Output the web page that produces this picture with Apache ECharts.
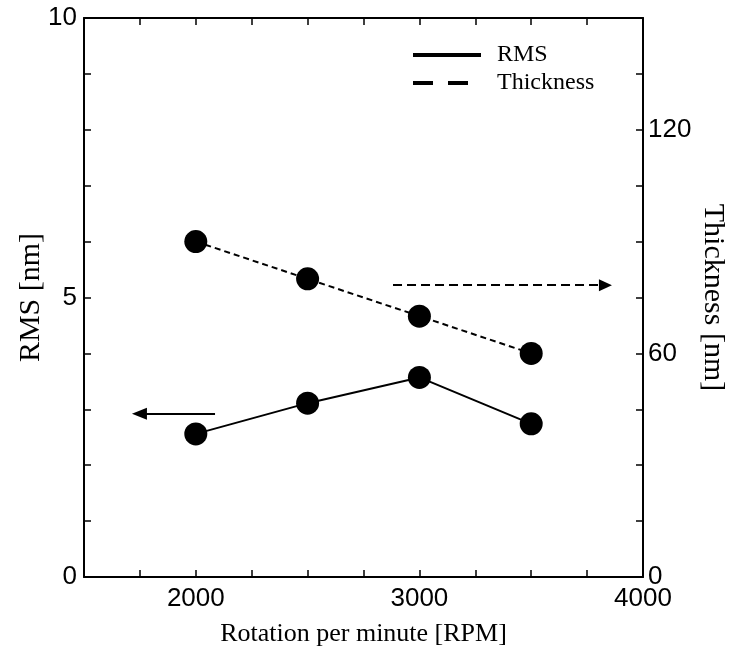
<!DOCTYPE html>
<html>
<head>
<meta charset="utf-8">
<script src="https://cdn.jsdelivr.net/npm/echarts@6/dist/echarts.min.js"></script>
<style>html,body{margin:0;padding:0;background:#fff;}#c{width:732px;height:652px;}</style>
</head>
<body>
<div id="c"></div>
<script>
// Data
const rpm = [2000, 2500, 3000, 3500];
const rmsValues = [2.56, 3.11, 3.57, 2.74];
const thicknessValues = [90, 80, 70, 60];
const seriesNames = ['RMS', 'Thickness'];
const xLabelValues = [2000, 3000, 4000];
const leftLabelValues = [0, 5, 10];
const rightLabelValues = [0, 60, 120];
// Annotation arrows (data space): [startX, endX, y]
const rmsArrow = [2086, 1748, 2.92];
const thicknessArrow = [2882, 3832, 78.3];

const serif = 'Liberation Serif, Times New Roman, serif';
const sans = 'Liberation Sans, Arial, sans-serif';

const chart = echarts.init(document.getElementById('c'), null, {renderer: 'canvas'});
const axisLine = {show: true, onZero: false, lineStyle: {color: '#000', width: 2}};
const axisTick = {show: true, inside: true, length: 7, lineStyle: {color: '#000', width: 1.5}};

chart.setOption({
  animation: false,
  backgroundColor: '#fff',
  grid: {left: 84, right: 89, top: 18, bottom: 75, containLabel: false, outerBoundsMode: 'none'},
  legend: {
    orient: 'vertical', left: 406, top: 38,
    itemWidth: 68, itemHeight: 24, itemGap: 4,
    lineStyle: {width: 4, color: '#000'},
    itemStyle: {opacity: 0},
    textStyle: {fontFamily: serif, fontSize: 24, color: '#000', padding: [0, 0, 0, 11]},
    data: [
      {name: seriesNames[0], lineStyle: {type: 'solid', width: 4, color: '#000'}, itemStyle: {opacity: 0}},
      {name: seriesNames[1], lineStyle: {type: [20, 15], width: 4, color: '#000'}, itemStyle: {opacity: 0}}
    ]
  },
  xAxis: [
    {
      type: 'value', min: 1500, max: 4000, interval: 250, position: 'bottom',
      name: 'Rotation per minute [RPM]', nameLocation: 'middle', nameGap: 44, nameMoveOverlap: false,
      nameTextStyle: {fontFamily: serif, fontSize: 26, color: '#000'},
      axisLine: axisLine, axisTick: axisTick, splitLine: {show: false},
      axisLabel: {margin: 9, fontFamily: sans, fontSize: 26, color: '#000',
        formatter: v => xLabelValues.includes(v) ? String(v) : ''}
    },
    {
      type: 'value', min: 1500, max: 4000, interval: 250, position: 'top',
      axisLine: axisLine, axisTick: axisTick, splitLine: {show: false},
      axisLabel: {show: false}
    }
  ],
  yAxis: [
    {
      type: 'value', min: 0, max: 10, interval: 1, position: 'left',
      name: 'RMS [nm]', nameLocation: 'middle', nameGap: 38, nameRotate: 90, nameMoveOverlap: false,
      nameTextStyle: {fontFamily: serif, fontSize: 30, color: '#000'},
      axisLine: axisLine, axisTick: axisTick, splitLine: {show: false},
      axisLabel: {margin: 7, fontFamily: sans, fontSize: 26, color: '#000',
        formatter: v => leftLabelValues.includes(v) ? String(v) : ''}
    },
    {
      type: 'value', min: 0, max: 150, interval: 15, position: 'right',
      name: 'Thickness [nm]', nameLocation: 'middle', nameGap: 55, nameRotate: -90, nameMoveOverlap: false,
      nameTextStyle: {fontFamily: serif, fontSize: 30, color: '#000'},
      axisLine: axisLine, axisTick: axisTick, splitLine: {show: false},
      axisLabel: {margin: 5, fontFamily: sans, fontSize: 26, color: '#000',
        formatter: v => rightLabelValues.includes(v) ? String(v) : ''}
    }
  ],
  series: [
    {
      name: seriesNames[0], type: 'line', xAxisIndex: 0, yAxisIndex: 0,
      data: rpm.map((x, i) => [x, rmsValues[i]]),
      symbol: 'circle', symbolSize: 23,
      itemStyle: {color: '#000'},
      lineStyle: {color: '#000', width: 2, type: 'solid'},
      markLine: {
        silent: true, symbol: ['none', 'triangle'], symbolSize: [12, 15],
        label: {show: false},
        lineStyle: {color: '#000', width: 2, type: 'solid'},
        data: [[{coord: [rmsArrow[0], rmsArrow[2]]}, {coord: [rmsArrow[1], rmsArrow[2]]}]]
      }
    },
    {
      name: seriesNames[1], type: 'line', xAxisIndex: 0, yAxisIndex: 1,
      data: rpm.map((x, i) => [x, thicknessValues[i]]),
      symbol: 'circle', symbolSize: 23,
      itemStyle: {color: '#000'},
      lineStyle: {color: '#000', width: 2, type: [6, 4]},
      markLine: {
        silent: true, symbol: ['none', 'triangle'], symbolSize: [12, 13],
        label: {show: false},
        lineStyle: {color: '#000', width: 2, type: [9, 5]},
        data: [[{coord: [thicknessArrow[0], thicknessArrow[2]]}, {coord: [thicknessArrow[1], thicknessArrow[2]]}]]
      }
    }
  ]
});
</script>
</body>
</html>
